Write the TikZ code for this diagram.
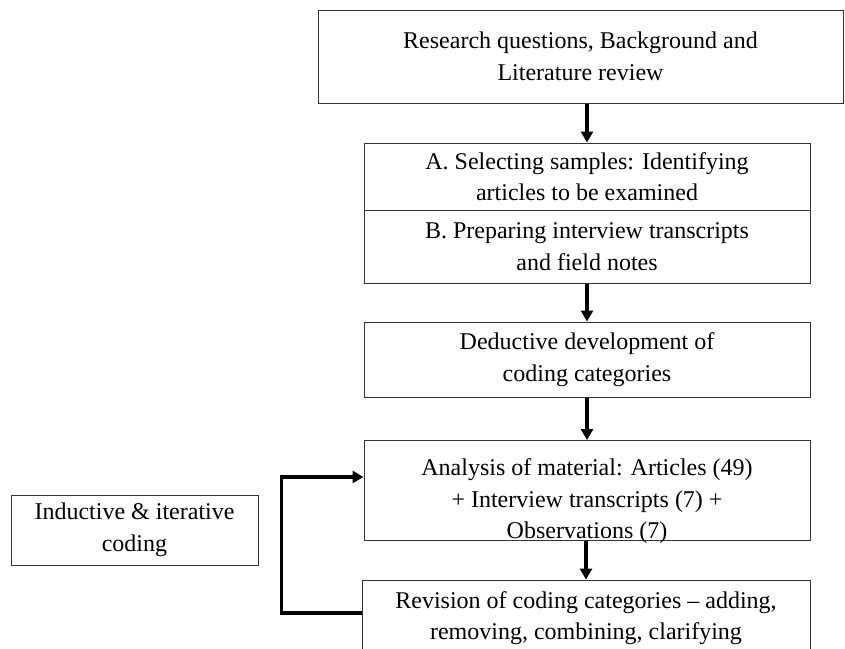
\documentclass[tikz,border=0pt]{standalone}
\usepackage{fontspec}
\setmainfont{Liberation Serif}
\usepackage{tikz}
\usetikzlibrary{arrows.meta,positioning}

\begin{document}
\begin{tikzpicture}[
        x=1pt, y=-1pt,
        stepbox/.style={draw=black!80, line width=1pt, inner sep=0pt, align=center,
                        font=\fontsize{24}{31.5}\selectfont},
        flow/.style={-{Triangle[length=11pt,width=12pt]}, line width=3.2pt},
        every node/.style={font=\fontsize{24}{31.5}\selectfont}
      ]
      \useasboundingbox (0,0) rectangle (845,648);
      \node[stepbox, minimum width=525pt, minimum height=93pt] (research) at (580.5,56.5)
        {Research questions, Background and\\Literature review};
      \node[stepbox, minimum width=446pt, minimum height=67pt] (selA) at (587,176.5)
        {A. Selecting samples: Identifying\\articles to be examined};
      \node[stepbox, minimum width=446pt, minimum height=73pt] (prepB) at (587,246.5)
        {B. Preparing interview transcripts\\and field notes};
      \node[stepbox, minimum width=446pt, minimum height=75pt] (deduct) at (587,359.5)
        {Deductive development of\\coding categories};
      \node[stepbox, minimum width=446pt, minimum height=100pt,
            label={[align=center, yshift=-11pt]center:Analysis of material: Articles (49)\\+ Interview transcripts (7) +\\Observations (7)}] (analysis) at (587,490.5) {};
      \node[stepbox, minimum width=448pt, minimum height=76pt] (revision) at (586,618)
        {Revision of coding categories -- adding,\\removing, combining, clarifying};
      \node[stepbox, minimum width=247pt, minimum height=70pt] (induct) at (134.5,530)
        {Inductive \& iterative\\coding};
      \draw[flow] (selA.north |- research.south) -- (selA.north);
      \draw[flow] (prepB.south) -- (deduct.north);
      \draw[flow] (deduct.south) -- (analysis.north);
      \draw[flow] (revision.north |- analysis.south) -- (revision.north);
      % loop back from revision to analysis
      \draw[flow] ([yshift=5pt]revision.west) -- ++(-80,0) |- ([yshift=13.5pt]analysis.west);
    \end{tikzpicture}
\end{document}
